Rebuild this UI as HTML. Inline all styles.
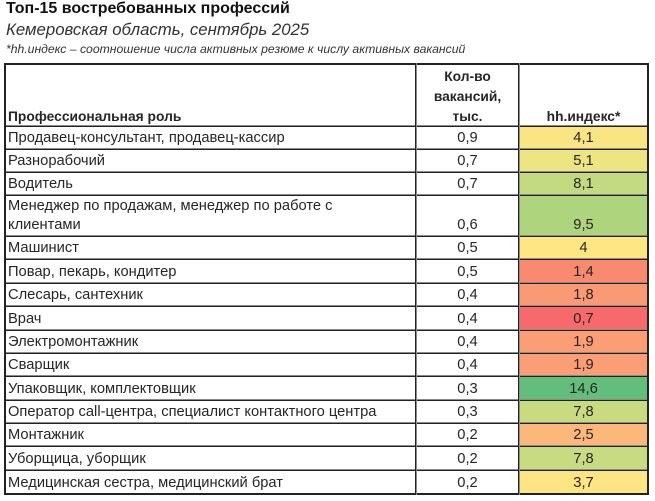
<!DOCTYPE html>
<html><head><meta charset="utf-8">
<style>
*{margin:0;padding:0;box-sizing:border-box}
html,body{width:655px;height:501px;background:#fff;overflow:hidden}
body{position:relative;font-family:"Liberation Sans",Arial,sans-serif;color:#262626}
.a{position:absolute;white-space:nowrap}
.t{font-size:14.7px;line-height:20px}
.hd{font-size:13.8px;line-height:20px;font-weight:bold}
.c2{left:417px;width:101px;text-align:center}
.c3{left:520px;width:127px;text-align:center}
.c1{left:8px}
.h{position:absolute;left:4px;width:645px;height:2px;background:linear-gradient(#8a8a8a 0 50%,#222 50% 100%)}
.v{position:absolute;top:63px;height:432px;width:2px;background:linear-gradient(90deg,#222 0 50%,#8a8a8a 50% 100%)}
.f{position:absolute;left:519px;width:129px}
</style></head><body>
<div class="a" style="left:6px;top:1px;font-size:16px;line-height:16px;font-weight:bold;color:#111">Топ-15 востребованных профессий</div>
<div class="a" style="left:6px;top:22px;font-size:16.8px;line-height:16.8px;font-style:italic;color:#333">Кемеровская область, сентябрь 2025</div>
<div class="a" style="left:6px;top:43px;font-size:12.2px;line-height:12.2px;font-style:italic;color:#333">*hh.индекс – соотношение числа активных резюме к числу активных вакансий</div>

<!-- fills -->
<div class="f" style="top:126px;height:23px;background:#FBE583"></div>
<div class="f" style="top:149px;height:23px;background:#EDE482"></div>
<div class="f" style="top:172px;height:23px;background:#C4DA80"></div>
<div class="f" style="top:195px;height:41px;background:#AFD47E"></div>
<div class="f" style="top:236px;height:23px;background:#FEE783"></div>
<div class="f" style="top:259px;height:24px;background:#F98A70"></div>
<div class="f" style="top:283px;height:23px;background:#FA9A74"></div>
<div class="f" style="top:306px;height:24px;background:#F8696B"></div>
<div class="f" style="top:330px;height:23px;background:#FB9E75"></div>
<div class="f" style="top:353px;height:23px;background:#FB9E75"></div>
<div class="f" style="top:376px;height:24px;background:#63BE7B"></div>
<div class="f" style="top:400px;height:23px;background:#C8DB81"></div>
<div class="f" style="top:423px;height:23px;background:#FCB77A"></div>
<div class="f" style="top:446px;height:24px;background:#C8DB81"></div>
<div class="f" style="top:470px;height:24px;background:#FEE583"></div>

<!-- lines -->
<div class="h" style="top:63px;background:#222"></div>
<div class="h" style="top:125px"></div>
<div class="h" style="top:148px"></div>
<div class="h" style="top:171px"></div>
<div class="h" style="top:194px"></div>
<div class="h" style="top:235px"></div>
<div class="h" style="top:258px"></div>
<div class="h" style="top:282px"></div>
<div class="h" style="top:305px"></div>
<div class="h" style="top:329px"></div>
<div class="h" style="top:352px"></div>
<div class="h" style="top:375px"></div>
<div class="h" style="top:399px"></div>
<div class="h" style="top:422px"></div>
<div class="h" style="top:445px"></div>
<div class="h" style="top:469px"></div>
<div class="h" style="top:493px;background:#222"></div>
<div class="v" style="left:4px;background:#222"></div>
<div class="v" style="left:415px"></div>
<div class="v" style="left:518px"></div>
<div class="v" style="left:647px;background:#222"></div>

<!-- header -->
<div class="a hd c1" style="top:107px">Профессиональная роль</div>
<div class="a hd c2" style="top:67px">Кол-во</div>
<div class="a hd c2" style="top:87px">вакансий,</div>
<div class="a hd c2" style="top:107px">тыс.</div>
<div class="a hd c3" style="top:107px">hh.индекс*</div>

<!-- rows -->
<div class="a t c1" style="top:128px">Продавец-консультант, продавец-кассир</div>
<div class="a t c2" style="top:128px">0,9</div>
<div class="a t c3" style="top:128px">4,1</div>

<div class="a t c1" style="top:151px">Разнорабочий</div>
<div class="a t c2" style="top:151px">0,7</div>
<div class="a t c3" style="top:151px">5,1</div>

<div class="a t c1" style="top:174px">Водитель</div>
<div class="a t c2" style="top:174px">0,7</div>
<div class="a t c3" style="top:174px">8,1</div>

<div class="a t c1" style="top:196px">Менеджер по продажам, менеджер по работе с</div>
<div class="a t c1" style="top:215px">клиентами</div>
<div class="a t c2" style="top:215px">0,6</div>
<div class="a t c3" style="top:215px">9,5</div>

<div class="a t c1" style="top:238px">Машинист</div>
<div class="a t c2" style="top:238px">0,5</div>
<div class="a t c3" style="top:238px">4</div>

<div class="a t c1" style="top:262px">Повар, пекарь, кондитер</div>
<div class="a t c2" style="top:262px">0,5</div>
<div class="a t c3" style="top:262px">1,4</div>

<div class="a t c1" style="top:285px">Слесарь, сантехник</div>
<div class="a t c2" style="top:285px">0,4</div>
<div class="a t c3" style="top:285px">1,8</div>

<div class="a t c1" style="top:309px">Врач</div>
<div class="a t c2" style="top:309px">0,4</div>
<div class="a t c3" style="top:309px">0,7</div>

<div class="a t c1" style="top:332px">Электромонтажник</div>
<div class="a t c2" style="top:332px">0,4</div>
<div class="a t c3" style="top:332px">1,9</div>

<div class="a t c1" style="top:355px">Сварщик</div>
<div class="a t c2" style="top:355px">0,4</div>
<div class="a t c3" style="top:355px">1,9</div>

<div class="a t c1" style="top:379px">Упаковщик, комплектовщик</div>
<div class="a t c2" style="top:379px">0,3</div>
<div class="a t c3" style="top:379px">14,6</div>

<div class="a t c1" style="top:402px">Оператор call-центра, специалист контактного центра</div>
<div class="a t c2" style="top:402px">0,3</div>
<div class="a t c3" style="top:402px">7,8</div>

<div class="a t c1" style="top:425px">Монтажник</div>
<div class="a t c2" style="top:425px">0,2</div>
<div class="a t c3" style="top:425px">2,5</div>

<div class="a t c1" style="top:449px">Уборщица, уборщик</div>
<div class="a t c2" style="top:449px">0,2</div>
<div class="a t c3" style="top:449px">7,8</div>

<div class="a t c1" style="top:473px">Медицинская сестра, медицинский брат</div>
<div class="a t c2" style="top:473px">0,2</div>
<div class="a t c3" style="top:473px">3,7</div>
</body></html>
